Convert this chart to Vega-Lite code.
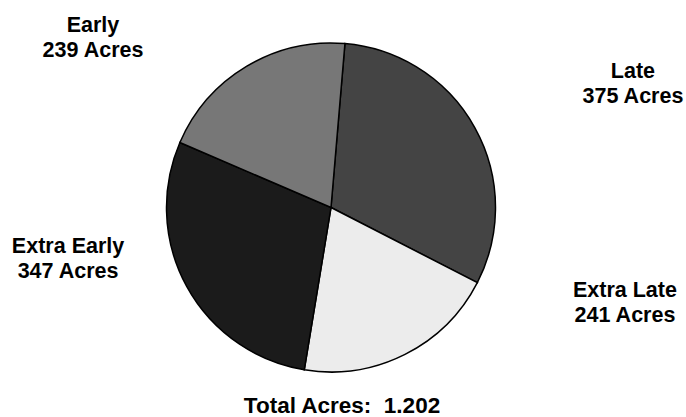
{
  "$schema": "https://vega.github.io/schema/vega-lite/v6.json",
  "width": 662,
  "height": 415,
  "autosize": {"type": "none"},
  "padding": {"left": 0, "right": 24, "top": 0, "bottom": 2},
  "background": "white",
  "config": {"view": {"stroke": null}, "font": "Liberation Sans"},
  "title": {
    "text": "Total Acres:\u00a0 1.202",
    "orient": "bottom",
    "frame": "group",
    "anchor": "middle",
    "dx": 11,
    "baseline": "alphabetic",
    "offset": -2.5,
    "fontSize": 22.5,
    "fontWeight": "bold",
    "font": "Liberation Sans",
    "color": "black"
  },
  "data": {
    "values": [
      {"category": "Late", "acres": 375, "order": 1, "label": "Late\n375 Acres"},
      {"category": "Extra Late", "acres": 241, "order": 2, "label": "Extra Late\n241 Acres"},
      {"category": "Extra Early", "acres": 347, "order": 3, "label": "Extra Early\n347 Acres"},
      {"category": "Early", "acres": 239, "order": 4, "label": "Early\n239 Acres"}
    ]
  },
  "transform": [
    {"stack": "acres", "groupby": [], "sort": [{"field": "order", "order": "ascending"}], "as": ["s0", "s1"]}
  ],
  "layer": [
    {
      "mark": {"type": "arc", "outerRadius": 164.5, "stroke": "black", "strokeWidth": 1.5},
      "encoding": {
        "theta": {"field": "s0", "type": "quantitative", "stack": null, "scale": {"domain": [0, 1202], "range": [0.0848, 6.368]}},
        "theta2": {"field": "s1"},
        "color": {
          "field": "category",
          "type": "nominal",
          "scale": {"domain": ["Late", "Extra Late", "Extra Early", "Early"], "range": ["#444444", "#ececec", "#1b1b1b", "#777777"]},
          "legend": null
        }
      }
    },
    {
      "transform": [{"filter": "datum.category === 'Early'"}],
      "mark": {"type": "text", "radius": 299.3, "thetaOffset": 0.2452, "fontSize": 21.5, "fontWeight": "bold", "font": "Liberation Sans", "color": "black", "lineBreak": "\n", "lineHeight": 25, "align": "center", "baseline": "middle"},
      "encoding": {"theta": {"field": "s0", "type": "quantitative", "stack": null}, "text": {"field": "label"}}
    },
    {
      "transform": [{"filter": "datum.category === 'Late'"}],
      "mark": {"type": "text", "radius": 330.8, "thetaOffset": 1.0654, "fontSize": 21.5, "fontWeight": "bold", "font": "Liberation Sans", "color": "black", "lineBreak": "\n", "lineHeight": 25, "align": "center", "baseline": "middle"},
      "encoding": {"theta": {"field": "s0", "type": "quantitative", "stack": null}, "text": {"field": "label"}}
    },
    {
      "transform": [{"filter": "datum.category === 'Extra Late'"}],
      "mark": {"type": "text", "radius": 305.6, "thetaOffset": -0.1974, "fontSize": 21.5, "fontWeight": "bold", "font": "Liberation Sans", "color": "black", "lineBreak": "\n", "lineHeight": 25, "align": "center", "baseline": "middle"},
      "encoding": {"theta": {"field": "s0", "type": "quantitative", "stack": null}, "text": {"field": "label"}}
    },
    {
      "transform": [{"filter": "datum.category === 'Extra Early'"}],
      "mark": {"type": "text", "radius": 265.9, "thetaOffset": 1.2586, "fontSize": 21.5, "fontWeight": "bold", "font": "Liberation Sans", "color": "black", "lineBreak": "\n", "lineHeight": 25, "align": "center", "baseline": "middle"},
      "encoding": {"theta": {"field": "s0", "type": "quantitative", "stack": null}, "text": {"field": "label"}}
    }
  ]
}
